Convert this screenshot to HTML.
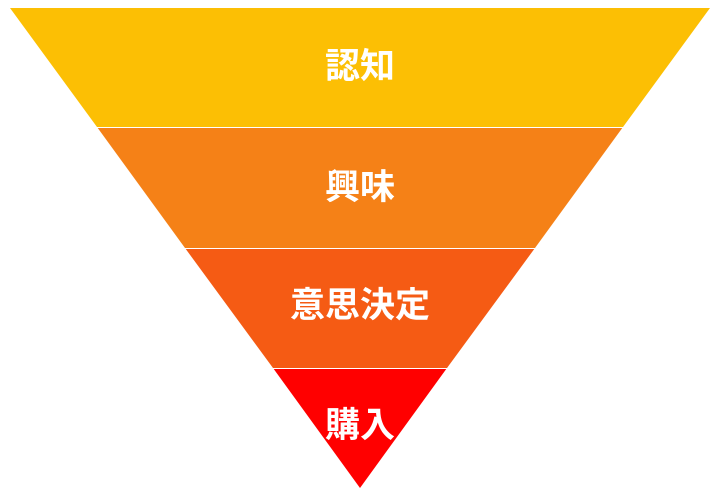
<!DOCTYPE html>
<html><head><meta charset="utf-8"><style>
html,body{margin:0;padding:0;background:#fff;width:723px;height:492px;overflow:hidden}
text{font-family:"Liberation Sans","Noto Sans CJK JP",sans-serif;font-weight:bold;font-size:35px;fill:#fff}
</style></head><body>
<svg width="723" height="492" viewBox="0 0 723 492">
<polygon points="10,8 710,8 623,127 97,127" fill="#FCBF04"/>
<polygon points="97,127 623,127 535,248 185,248" fill="#F58117"/>
<polygon points="185,248 535,248 447,368 273,368" fill="#F55B14"/>
<polygon points="273,368 447,368 360,488" fill="#FF0000"/>
<line x1="97" y1="127.5" x2="623" y2="127.5" stroke="#fff" stroke-width="1"/>
<line x1="185" y1="248.5" x2="535" y2="248.5" stroke="#fff" stroke-width="1"/>
<line x1="273" y1="368.5" x2="447" y2="368.5" stroke="#fff" stroke-width="1"/>
<text x="360" y="78" text-anchor="middle">認知</text>
<text x="360" y="199" text-anchor="middle">興味</text>
<text x="360" y="317" text-anchor="middle">意思決定</text>
<text x="360" y="437" text-anchor="middle">購入</text>
</svg>
</body></html>
